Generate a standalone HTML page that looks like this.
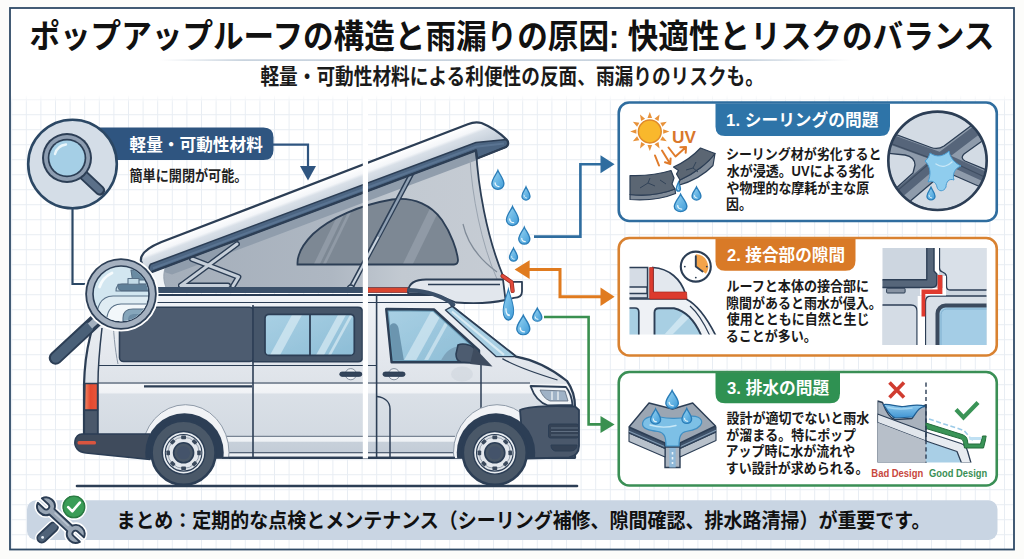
<!DOCTYPE html>
<html lang="ja"><head><meta charset="utf-8"><title>ポップアップルーフの構造と雨漏りの原因</title>
<style>
html,body{margin:0;padding:0;background:#fcfcfa}
body{width:1024px;height:559px;overflow:hidden;position:relative;font-family:"Liberation Sans","Noto Sans CJK JP",sans-serif}
svg{position:absolute;left:0;top:0;display:block}
svg text{font-family:"Liberation Sans","Noto Sans CJK JP",sans-serif;font-weight:bold}
.t{position:absolute;margin:0;padding:0;color:transparent;white-space:nowrap;overflow:hidden;line-height:1;font-weight:bold;font-family:"Liberation Sans","Noto Sans CJK JP",sans-serif}
.l{font-family:"Liberation Sans","Noto Sans CJK JP",sans-serif;font-weight:bold}
</style></head><body>
<svg width="1024" height="559" viewBox="0 0 1024 559">
<defs>

<pattern id="grid" x="11.2" y="99.2" width="14.6" height="15" patternUnits="userSpaceOnUse">
<path d="M0.5 0V15M0 0.5H14.6" stroke="#e8edf3" stroke-width="1" fill="none"/>
</pattern>
<linearGradient id="gfade" x1="0" y1="0" x2="0" y2="1"><stop offset="0" stop-color="#fff" stop-opacity="1"/><stop offset="1" stop-color="#fff" stop-opacity="0"/></linearGradient>
<linearGradient id="uline" x1="0" y1="0" x2="1" y2="0"><stop offset="0" stop-color="#c3cfdb" stop-opacity="0"/><stop offset="0.12" stop-color="#c3cfdb"/><stop offset="0.85" stop-color="#c3cfdb"/><stop offset="1" stop-color="#c3cfdb" stop-opacity="0"/></linearGradient>

<linearGradient id="fab" x1="160" y1="0" x2="505" y2="0" gradientUnits="userSpaceOnUse"><stop offset="0" stop-color="#a4aeba"/><stop offset="0.5" stop-color="#aeb7c2"/><stop offset="0.7" stop-color="#c2c9d1"/><stop offset="1" stop-color="#c6ccd4"/></linearGradient>
<linearGradient id="shell" x1="300" y1="189" x2="308.9" y2="212.4" gradientUnits="userSpaceOnUse"><stop offset="0" stop-color="#ffffff"/><stop offset="0.3" stop-color="#f4f6f9"/><stop offset="0.42" stop-color="#d9e0e8"/><stop offset="0.75" stop-color="#cbd4de"/><stop offset="1" stop-color="#c0cad6"/></linearGradient>
<linearGradient id="body" x1="0" y1="294" x2="0" y2="458" gradientUnits="userSpaceOnUse"><stop offset="0" stop-color="#f4f6f8"/><stop offset="0.06" stop-color="#eef1f5"/><stop offset="0.4" stop-color="#e3e7ed"/><stop offset="0.545" stop-color="#dee3e9"/><stop offset="0.552" stop-color="#f4f6f8"/><stop offset="0.6" stop-color="#f1f3f6"/><stop offset="0.612" stop-color="#dae0e7"/><stop offset="0.862" stop-color="#d3dae2"/><stop offset="0.872" stop-color="#f0f3f6"/><stop offset="0.898" stop-color="#eef1f5"/><stop offset="0.903" stop-color="#c7d0da"/><stop offset="0.965" stop-color="#c3ccd7"/><stop offset="0.972" stop-color="#eef1f5"/><stop offset="1" stop-color="#e9edf1"/></linearGradient>
<linearGradient id="glass" x1="0" y1="0" x2="1" y2="1"><stop offset="0" stop-color="#a9d0e4"/><stop offset="1" stop-color="#8dbdd6"/></linearGradient>
<linearGradient id="tail" x1="0" y1="0" x2="1" y2="0"><stop offset="0" stop-color="#f28a68"/><stop offset="0.45" stop-color="#e4492f"/><stop offset="1" stop-color="#e8573b"/></linearGradient>
<clipPath id="cw1"><path d="M297.5,264.5 C297,255 303,244 313,234 C330,218 360,205 392,199.5 C415,196.5 432,206 442,220 C451,233 457,250 458,260 Q458,264.5 454,264.5 Z"/></clipPath>
<clipPath id="cw2"><rect x="265" y="314.3" width="89.3" height="41.1" rx="4"/></clipPath>
<clipPath id="cw3"><path d="M386.2,309 L434,309.5 L479,350.5 L479,362.3 L391.6,362.3 Z"/></clipPath>
<clipPath id="carch"><rect x="60" y="380" width="540" height="78.3"/></clipPath>
<g id="wheel">
<circle r="32" fill="#4a5868" stroke="#2c3e55" stroke-width="2.6"/>
<circle r="22" fill="#2c3e55"/>
<circle r="20.6" fill="#e9edf1"/>
<circle r="18.3" fill="#dde2e8" stroke="#2c3e55" stroke-width="1.1"/>
<circle r="15.6" fill="#e4e8ed" stroke="#8793a2" stroke-width="0.8"/>
<g fill="#3a495c">
<rect x="-2.4" y="-17.2" width="4.8" height="3.6" rx="0.8"/><rect x="-2.4" y="13.6" width="4.8" height="3.6" rx="0.8"/>
<rect x="-17.2" y="-2.4" width="3.6" height="4.8" rx="0.8"/><rect x="13.6" y="-2.4" width="3.6" height="4.8" rx="0.8"/>
<g transform="rotate(45)"><rect x="-2.4" y="-17.2" width="4.8" height="3.6" rx="0.8"/><rect x="-2.4" y="13.6" width="4.8" height="3.6" rx="0.8"/>
<rect x="-17.2" y="-2.4" width="3.6" height="4.8" rx="0.8"/><rect x="13.6" y="-2.4" width="3.6" height="4.8" rx="0.8"/></g></g>
<circle r="10" fill="#4a5868" stroke="#2c3e55" stroke-width="1.6"/>
<circle r="6.5" fill="#44536a"/>
</g>

<clipPath id="cc1"><circle cx="937.5" cy="160.8" r="48.2"/></clipPath>
<clipPath id="cb2"><rect x="882.5" y="248" width="104" height="97"/></clipPath>
<clipPath id="cb2l"><rect x="629.5" y="262" width="88" height="72.5"/></clipPath>
<clipPath id="cb3"><rect x="877.5" y="382" width="109" height="80.5"/></clipPath>
<linearGradient id="drop" x1="0" y1="0" x2="1" y2="1"><stop offset="0" stop-color="#9ad6f3"/><stop offset="1" stop-color="#3f9bd8"/></linearGradient>
<linearGradient id="wbad" x1="0" y1="0" x2="0" y2="1"><stop offset="0" stop-color="#8ecbef"/><stop offset="1" stop-color="#3f93d2"/></linearGradient>
<path id="dr" d="M0,-10 C1.2,-6.5 5.6,-1.5 5.6,3.6 A5.6,5.6 0 1 1 -5.6,3.6 C-5.6,-1.5 -1.2,-6.5 0,-10 Z"/>

<radialGradient id="lens" cx="0.4" cy="0.35" r="0.75"><stop offset="0" stop-color="#c4e2f1"/><stop offset="1" stop-color="#97c6df"/></radialGradient>
<clipPath id="clens"><circle cx="121" cy="294" r="27.2"/></clipPath>

</defs>
<rect width="1024" height="559" fill="#fcfcfa"/>
<rect x="10" y="8" width="1004" height="541.5" fill="#fff"/>
<rect x="11" y="95" width="1002" height="454" fill="url(#grid)"/>
<rect x="11" y="95" width="1002" height="8" fill="url(#gfade)"/>
<rect x="10" y="8" width="1004" height="541.5" fill="none" stroke="#2f4a66" stroke-width="1.8"/>
<rect x="160" y="59.3" width="692" height="1.6" fill="url(#uline)"/>
<text x="29.38" y="48.10" font-size="32.7" fill="#111" textLength="965" lengthAdjust="spacingAndGlyphs">ポップアップルーフの構造と雨漏りの原因: 快適性とリスクのバランス</text>
<text x="260.44" y="84.30" font-size="21.2" fill="#1a1a1a" textLength="503.5" lengthAdjust="spacingAndGlyphs">軽量・可動性材料による利便性の反面、雨漏りのリスクも。</text>
<path d="M77,486 H577" stroke="#2c3e55" stroke-width="2.6" stroke-linecap="round"/>
<path d="M160,289 L160,268 L476,149.5 C478,185 486,235 503.5,277 L504,289 Z" fill="url(#fab)"/>
<path d="M158,270 L476,150.5 L477,160 L172,274.5 Z" fill="#909dac"/>
<path d="M476,149.5 C478,185 486,235 503.5,277" fill="none" stroke="#2c3e55" stroke-width="1.8"/>
<path d="M470,159 C472,195 481,243 497,279" fill="none" stroke="#9aa4b0" stroke-width="1"/>
<path d="M463,224 C467,242 479,259 497,272" fill="none" stroke="#7f8a97" stroke-width="1.2"/>
<path d="M297.5,264.5 C297,255 303,244 313,234 C330,218 360,205 392,199.5 C415,196.5 432,206 442,220 C451,233 457,250 458,260 Q458,264.5 454,264.5 Z" fill="#7d8894"/>
<g clip-path="url(#cw1)" fill="#909aa6"><path d="M311,270 L345,200 L351,200 L317,270 Z"/><path d="M320,270 L354,200 L357,200 L323,270 Z"/><path d="M400,270 L436,196 L446,196 L410,270 Z"/></g>
<path d="M297.5,264.5 C297,255 303,244 313,234 C330,218 360,205 392,199.5 C415,196.5 432,206 442,220 C451,233 457,250 458,260 Q458,264.5 454,264.5 Z" fill="none" stroke="#2c3e55" stroke-width="1.8"/>
<path d="M412,173 L351,287.5" stroke="#2c3e55" stroke-width="5.2" stroke-linecap="round"/>
<path d="M412,173 L378.5,236.5" stroke="#8fa0b3" stroke-width="2.4"/>
<path d="M378.5,236.5 L351,287.5" stroke="#c9d3dd" stroke-width="2.2"/>
<circle cx="350.8" cy="288.5" r="3.4" fill="#b9c5d1" stroke="#2c3e55" stroke-width="1.5"/>
<path d="M181,285.5 L237,244" fill="none" stroke="#2c3e55" stroke-width="5.8" stroke-linejoin="round" stroke-linecap="round"/>
<path d="M192,259 L238.5,277 L233,286" fill="none" stroke="#2c3e55" stroke-width="5.8" stroke-linejoin="round" stroke-linecap="round"/>
<path d="M181,285.5 H228" fill="none" stroke="#2c3e55" stroke-width="5.8" stroke-linejoin="round" stroke-linecap="round"/>
<path d="M181,285.5 L237,244" fill="none" stroke="#c6cfd9" stroke-width="3" stroke-linejoin="round" stroke-linecap="round"/>
<path d="M192,259 L238.5,277 L233,286" fill="none" stroke="#c6cfd9" stroke-width="3" stroke-linejoin="round" stroke-linecap="round"/>
<path d="M181,285.5 H228" fill="none" stroke="#c6cfd9" stroke-width="3" stroke-linejoin="round" stroke-linecap="round"/>
<path d="M149,270 L166,265.5 C163,273 163,280 166,287.5 L158,287.5 C152,283 149.5,277 149,270 Z" fill="#f1f4f7" stroke="#8e9aa8" stroke-width="0.8"/>
<path d="M141,261 C140,254 148,247.5 161.5,242 L467.8,124.2 C472,122.5 477,121.8 481.5,123 C490,126.5 500,133 506.5,139.5 C509,142 508.5,145.5 506,147 L477,158.5 L476,150.3 L150.7,272.3 C146,271 142.5,267 141,261 Z" fill="url(#shell)"/>
<path d="M150.7,272.3 L476,150.3 L477,158.5 L506,147 C508.5,145.5 509,142 506.5,139.5 L476,142.5 L150.5,264.3 C148.5,267 148.8,270.5 150.7,272.3 Z" fill="#4c6582" stroke="#2c3e55" stroke-width="1.5" stroke-linejoin="round"/>
<path d="M153,268.3 L476,146.8 L504,143.5" fill="none" stroke="#5a7492" stroke-width="2"/>
<path d="M141,261 C140,254 148,247.5 161.5,242 L467.8,124.2 C472,122.5 477,121.8 481.5,123 C490,126.5 500,133 506.5,139.5 C509,142 508.5,145.5 506,147 L477,158.5 L476,150.3 L150.7,272.3 C146,271 142.5,267 141,261 Z" fill="none" stroke="#2c3e55" stroke-width="2.3" stroke-linejoin="round"/>
<rect x="157" y="287" width="254" height="6" fill="#3b5069"/>
<rect x="368" y="287.6" width="41" height="5" fill="#d9452f"/>
<path d="M408,291 C409,283 416,279.5 426,279.5 L503,279.5 L505.5,300 C490,303.5 470,303.5 456,302.5 C445,297 430,293 408,293 Z" fill="#e2e7ed" stroke="#2c3e55" stroke-width="1.8" stroke-linejoin="round"/>
<path d="M428,284.5 H500" stroke="#2c3e55" stroke-width="1.3"/>
<path d="M512,281.8 H522 V291.5 C522,296 518.5,297.8 514,297.8 L505.5,300" fill="#fff" stroke="#2c3e55" stroke-width="1.8" stroke-linejoin="round"/>
<path d="M502.6,276 L511.6,282.2 L512.6,291" fill="none" stroke="#8f2a20" stroke-width="4.2" stroke-linejoin="round" stroke-linecap="round"/><path d="M502.6,276 L511.6,282.2 L512.6,291" fill="none" stroke="#e2493a" stroke-width="2.8" stroke-linejoin="round" stroke-linecap="round"/>
<path d="M108,295 L434,295 C443,296 448.5,300 452.2,306.4 L516.1,356.6 C535,360 552,369 567,381 C572,388 575,398 575,407 L575,457.8 L146,457.8 L146,436 L84,436 L84,385 C84.5,365 87,349 90,337 C93,322 100,303 108,295 Z" fill="url(#body)" stroke="#2c3e55" stroke-width="2.2" stroke-linejoin="round"/>
<path d="M110,302.5 H452" stroke="#2c3e55" stroke-width="1.1"/>
<path d="M102,328 C100,345 98,365 98,383 V434" fill="none" stroke="#2c3e55" stroke-width="1.5"/>
<path d="M113,312 C113,330 115,350 118,364" fill="none" stroke="#8b97a6" stroke-width="1"/>
<path d="M99,365.5 H376" stroke="#2c3e55" stroke-width="1.1"/>
<path d="M98,383 H530" stroke="#2c3e55" stroke-width="1.1"/>
<path d="M144,386.3 H252" stroke="#2c3e55" stroke-width="2.2"/>
<path d="M222,436.3 H455" stroke="#5d6b7c" stroke-width="1"/>
<path d="M222,452.7 H455" stroke="#2c3e55" stroke-width="1.1"/>
<path d="M253,305 V457" stroke="#2c3e55" stroke-width="1.6"/>
<path d="M376.6,296 V457" stroke="#2c3e55" stroke-width="1.6"/>
<path d="M377,396.5 C385,397.5 390,402 390,409 V457" fill="none" stroke="#2c3e55" stroke-width="1.5"/>
<path d="M481,357 V414" stroke="#2c3e55" stroke-width="1.5"/>
<rect x="119.5" y="307.2" width="134" height="54.3" rx="4" fill="#4d5c70" stroke="#2c3e55" stroke-width="1.6"/>
<path d="M253,307.2 H358 Q362.4,307.2 362.4,311.5 V357.5 Q362.4,361.8 358,361.8 H253 Z" fill="#46566a" stroke="#2c3e55" stroke-width="1.6"/>
<rect x="265" y="314.3" width="89.3" height="41.1" rx="4" fill="url(#glass)"/>
<g clip-path="url(#cw2)" fill="#d4e8f2" opacity="0.75"><path d="M269,357 L293,313 L303,313 L279,357 Z"/><path d="M315,357 L339,313 L347,313 L323,357 Z"/><path d="M327,357 L351,313 L354,313 L330,357 Z"/></g>
<rect x="265" y="314.3" width="89.3" height="41.1" rx="4" fill="none" stroke="#2c3e55" stroke-width="1.7"/>
<path d="M310,314.3 V355.4" stroke="#2c3e55" stroke-width="1.8"/>
<path d="M386.2,309 L434,309.5 L479,350.5 L479,362.3 L391.6,362.3 Z" fill="url(#glass)"/>
<g clip-path="url(#cw3)"><path d="M389,328 C390.5,321.5 397,321.5 398.5,328 L404.5,364 H392 Z" fill="#6b95af"/><path d="M440,363 C445,350 455,345 462,347 L470,363 Z" fill="#7ea3bb"/><g fill="#d4e8f2" opacity="0.7"><path d="M402,364 L434,306 L446,306 L414,364 Z"/><path d="M422,364 L454,306 L458,306 L426,364 Z"/></g><path d="M386.2,309 L434,309.5 L479,350.5 L479,362.3 L391.6,362.3 Z" fill="none" stroke="#6a9cb6" stroke-width="4.6"/></g>
<path d="M386.2,309 L434,309.5 L479,350.5 L479,362.3 L391.6,362.3 Z" fill="none" stroke="#2c3e55" stroke-width="2.4" stroke-linejoin="round"/>
<path d="M409,290 C428,291 443,296.5 453.5,304.5" fill="none" stroke="#3b5069" stroke-width="3.8" stroke-linecap="round"/>
<path d="M445.5,310 L452.2,306.4 L516.1,356.6 L496,356.6 Z" fill="#a8cfe3" stroke="#2c3e55" stroke-width="1.4" stroke-linejoin="round"/>
<path d="M452,311.5 L504,354.8" stroke="#d8ebf4" stroke-width="2.2"/>
<path d="M458,345 C462,343 470,344 474,348 L479,357 C480,361 478,363 474,363 L461,362 C457,361 456,358 456,354 Z" fill="#4d5c70" stroke="#2c3e55" stroke-width="1.6"/>
<path d="M474,347 L492.5,366.5 L470,364 Z" fill="#3f4c5f"/>
<ellipse cx="462" cy="374" rx="11" ry="7.5" fill="#c9d0d9" opacity="0.45"/>
<path d="M502.4,358.6 C515,366 538,374 557.5,380" fill="none" stroke="#2c3e55" stroke-width="1.3"/>
<circle cx="350.8" cy="374.2" r="5.6" fill="#eef1f5" stroke="#7c8897" stroke-width="0.9"/>
<rect x="339.8" y="372.1" width="22" height="4.2" rx="2.1" fill="#33445a" stroke="#2c3e55" stroke-width="1"/>
<circle cx="394.0" cy="374.2" r="5.6" fill="#eef1f5" stroke="#7c8897" stroke-width="0.9"/>
<rect x="383.0" y="372.1" width="22" height="4.2" rx="2.1" fill="#33445a" stroke="#2c3e55" stroke-width="1"/>
<path d="M530.5,386 L566,387 C570,392 572,399 572.5,405 L548,405.5 C540,403 534,396 530.5,386 Z" fill="#f2f5f8" stroke="#2c3e55" stroke-width="1.8" stroke-linejoin="round"/>
<path d="M540,390 L565,391 L568,401 L550,401 C545,399 542,395 540,390 Z" fill="#9fb2c6" stroke="#5d6b7c" stroke-width="0.8"/>
<path d="M552,391.5 V400 M558,391.5 V400" stroke="#e9eef3" stroke-width="1.4"/>
<path d="M85,383.5 H97.5 V410 H84.5 Z" fill="url(#tail)" stroke="#2c3e55" stroke-width="1.4"/>
<rect x="84.5" y="410.5" width="13" height="24" fill="#4a586b" stroke="#2c3e55" stroke-width="1.2"/>
<g clip-path="url(#carch)">
<ellipse cx="185.5" cy="452.5" rx="43.5" ry="47.8" fill="#f1f3f6" stroke="#8e9aa8" stroke-width="1"/>
<ellipse cx="497" cy="452.5" rx="43.5" ry="47.8" fill="#f1f3f6" stroke="#8e9aa8" stroke-width="1"/>
</g>
<path d="M520,410 C528,406.5 545,405.5 575,406.5 L579,410 V446 C579,452 576,456 569,457.5 L524,458.5 L520,410 Z" fill="#4a586b" stroke="#2c3e55" stroke-width="1.8" stroke-linejoin="round"/>
<rect x="548.5" y="424" width="30" height="14" rx="2" fill="#344255" stroke="#2c3e55" stroke-width="1"/>
<path d="M551,428 H578 M551,431.5 H578 M551,435 H578" stroke="#5f6e81" stroke-width="1"/>
<path d="M551,445 H577 C577,449 574,451 570,451 H555 C552,450 551,448 551,445 Z" fill="#344255" stroke="#2c3e55" stroke-width="1"/>
<path d="M82,434 H150 V459.5 L86,453 C78,452 74,447 75,441 C76,436 78,434 82,434 Z" fill="#3f4b5c" stroke="#2c3e55" stroke-width="1.6" stroke-linejoin="round"/>
<rect x="77.5" y="441" width="18.5" height="3.5" rx="1.5" fill="#d9553f"/>
<g clip-path="url(#carch)">
<circle cx="184.5" cy="452.5" r="39.2" fill="#2c3e55"/>
<circle cx="496" cy="452.5" r="39.2" fill="#2c3e55"/>
</g>
<use href="#wheel" x="183.6" y="452.8"/>
<use href="#wheel" x="494.8" y="452.8"/>
<path d="M222,457.8 H455" stroke="#2c3e55" stroke-width="2"/>
<rect x="362.8" y="98" width="5.2" height="360.5" fill="#ffffff"/>
<rect x="618.75" y="102.50" width="378" height="118.50" rx="10.5" fill="#ffffff" stroke="#2f6d9f" stroke-width="2.6"/>
<path d="M715.5,103.50 H890.00 V126.00 Q890.00,136.00 880.00,136.00 H725 Q715.5,136.00 715.5,126.50 Z" fill="#2e74a8"/>
<text x="726.13" y="126.30" font-size="16.6" fill="#ffffff" textLength="152.3" lengthAdjust="spacingAndGlyphs">1. シーリングの問題</text>
<text x="725.94" y="159.30" font-size="14" fill="#1a1a1a" textLength="155.6" lengthAdjust="spacingAndGlyphs">シーリング材が劣化すると</text>
<text x="726.74" y="175.90" font-size="14" fill="#1a1a1a" textLength="147.4" lengthAdjust="spacingAndGlyphs">水が浸透。UVによる劣化</text>
<text x="726.51" y="192.50" font-size="14" fill="#1a1a1a" textLength="142.7" lengthAdjust="spacingAndGlyphs">や物理的な摩耗が主な原</text>
<text x="726.07" y="209.10" font-size="14" fill="#1a1a1a" textLength="25.9" lengthAdjust="spacingAndGlyphs">因。</text>
<g transform="translate(649.8 131.5)"><g fill="#e8923a"><path transform="rotate(0)" d="M-2.3,-13.4 L0,-19.6 L2.3,-13.4 Z"/><path transform="rotate(30)" d="M-2.3,-13.4 L0,-19.6 L2.3,-13.4 Z"/><path transform="rotate(60)" d="M-2.3,-13.4 L0,-19.6 L2.3,-13.4 Z"/><path transform="rotate(90)" d="M-2.3,-13.4 L0,-19.6 L2.3,-13.4 Z"/><path transform="rotate(120)" d="M-2.3,-13.4 L0,-19.6 L2.3,-13.4 Z"/><path transform="rotate(150)" d="M-2.3,-13.4 L0,-19.6 L2.3,-13.4 Z"/><path transform="rotate(180)" d="M-2.3,-13.4 L0,-19.6 L2.3,-13.4 Z"/><path transform="rotate(210)" d="M-2.3,-13.4 L0,-19.6 L2.3,-13.4 Z"/><path transform="rotate(240)" d="M-2.3,-13.4 L0,-19.6 L2.3,-13.4 Z"/><path transform="rotate(270)" d="M-2.3,-13.4 L0,-19.6 L2.3,-13.4 Z"/><path transform="rotate(300)" d="M-2.3,-13.4 L0,-19.6 L2.3,-13.4 Z"/><path transform="rotate(330)" d="M-2.3,-13.4 L0,-19.6 L2.3,-13.4 Z"/></g><circle r="11.4" fill="#f9b82c" stroke="#e08a2a" stroke-width="1.5"/></g>
<text x="672.06" y="142.80" font-size="16.3" fill="#d9772b" textLength="23.9" lengthAdjust="spacingAndGlyphs">UV</text>
<g fill="none" stroke="#e07b2a" stroke-width="2" stroke-linecap="round" stroke-linejoin="round"><path d="M655,155.5 L659,165.5"/><path d="M662,150.5 L670,163.5 M665,162.3 L670.3,164 L670.6,158.4"/><path d="M668.5,147.5 L675.5,156.5 L685.5,147.5 M680.4,147.3 L686,147 L685.7,152.8"/></g>
<g stroke="#2c3e55" stroke-width="1.2" stroke-linejoin="round">
<path d="M630,194.5 C645,196 660,195 675,189 L675.5,193.5 C660,200 645,200.5 630,199.5 Z" fill="#808b98"/>
<path d="M630,175.5 C645,176 660,174 671,170.5 L674,178 L672,184 L675,189 C660,195 645,196 630,194.5 Z" fill="#5b6673"/>
<path d="M680,180 C694,174 708,163 715,153.5 L713,165.5 C705,174 692,181.5 678,185.5 Z" fill="#808b98"/>
<path d="M673.5,167 C685,162 694,155 700.5,148 L715,153.5 C708,163 694,174 680,180 L676.5,174 L678.5,170.5 Z" fill="#5b6673"/>
</g>
<g fill="none" stroke="#2c3e55" stroke-width="0.9"><path d="M640,188 L648,183 L655,186 M648,183 L650,178"/><path d="M686,170 L693,168 L696,162 M693,168 L698,172"/><path d="M660,180 L666,184"/></g>
<g transform="translate(680.6 203.3) scale(1.116 0.911)"><use href="#dr" fill="url(#drop)" stroke="#2a7db8" stroke-width="1.28"/><path d="M-2.6,2.5 C-2.6,5 -1,6.3 1,6.3" fill="none" stroke="#e6f5fc" stroke-width="1.3" stroke-linecap="round"/></g>
<g transform="translate(696.5 193.8) scale(0.786 0.677)"><use href="#dr" fill="url(#drop)" stroke="#2a7db8" stroke-width="1.78"/><path d="M-2.6,2.5 C-2.6,5 -1,6.3 1,6.3" fill="none" stroke="#e6f5fc" stroke-width="1.3" stroke-linecap="round"/></g>
<g transform="translate(678.4 186.8) scale(0.375 0.469)"><use href="#dr" fill="url(#drop)" stroke="#2a7db8" stroke-width="3.08"/><path d="M-2.6,2.5 C-2.6,5 -1,6.3 1,6.3" fill="none" stroke="#e6f5fc" stroke-width="1.3" stroke-linecap="round"/></g>
<circle cx="937.5" cy="160.8" r="49.2" fill="#5d6b7c"/>
<g clip-path="url(#cc1)">
<rect x="885" y="108" width="105" height="105" fill="#8e9bab"/>
<g stroke="#56657a" stroke-width="10" stroke-linecap="round" fill="none"><path d="M940.5,157.5 L884,137"/><path d="M940.5,157.5 L990,120"/><path d="M938,160 L890,201"/><path d="M943,157.5 L992,180"/></g>
<g stroke="#3f4e62" stroke-width="1.2" fill="none"><path d="M884,141 L934,159.5 L890,197"/><path d="M948,160 L992,180.5"/></g>
<g fill="#d3dbe4" stroke="#2c3e55" stroke-width="1.3" stroke-linejoin="round">
<path d="M880,128.5 L931,147.5 Q938,150 944,146 L992,110 L992,100 L880,100 Z"/>
<path d="M880,152.5 L905,155 Q915,157 915,165 L913,173 L884,199 L870,205 Z"/>
<path d="M901,209 L941,175 Q946,172 952,174.5 L992,192 L992,220 L890,220 Z"/>
<path d="M996,131 L964,154 Q960,158 965,161 L996,174 Z"/>
</g>
<path d="M930,153 C937,158 944,156 949,151 C950,158 955,163 961,166 C955,168 952,174 954,180 C949,178 946,182 946,187 C944,192 938,192 937,187 C936,182 932,180 928,182 C931,175 931,167 925,161 C928,159 929,156 930,153 Z" fill="#8fcdee" stroke="#4a9bd0" stroke-width="1"/>
<path d="M936,164 C942,168 948,166 952,162" fill="none" stroke="#c9e8f7" stroke-width="1.4" stroke-linecap="round"/>
</g>
<g transform="translate(931.0 193.8) scale(0.714 0.651)"><use href="#dr" fill="url(#drop)" stroke="#2a7db8" stroke-width="1.90"/><path d="M-2.6,2.5 C-2.6,5 -1,6.3 1,6.3" fill="none" stroke="#e6f5fc" stroke-width="1.3" stroke-linecap="round"/></g>
<circle cx="937.5" cy="160.8" r="49.2" fill="none" stroke="#2c3e55" stroke-width="2.6"/>
<rect x="618.75" y="238.00" width="378" height="117.50" rx="10.5" fill="#ffffff" stroke="#d98231" stroke-width="2.6"/>
<path d="M715.5,239.00 H855.50 V260.80 Q855.50,270.80 845.50,270.80 H725 Q715.5,270.80 715.5,261.30 Z" fill="#d97a27"/>
<text x="726.92" y="261.20" font-size="16.6" fill="#ffffff" textLength="118.1" lengthAdjust="spacingAndGlyphs">2. 接合部の隙間</text>
<text x="726.48" y="290.90" font-size="14" fill="#1a1a1a" textLength="142.7" lengthAdjust="spacingAndGlyphs">ルーフと本体の接合部に</text>
<text x="726.08" y="307.50" font-size="14" fill="#1a1a1a" textLength="155.6" lengthAdjust="spacingAndGlyphs">隙間があると雨水が侵入。</text>
<text x="726.83" y="324.10" font-size="14" fill="#1a1a1a" textLength="142.7" lengthAdjust="spacingAndGlyphs">使用とともに自然と生じ</text>
<text x="725.86" y="340.70" font-size="14" fill="#1a1a1a" textLength="90.8" lengthAdjust="spacingAndGlyphs">ることが多い。</text>
<g clip-path="url(#cb2l)">
<path d="M625,299 H686 C698,305 707,318 716,336 H625 Z" fill="#eef1f5" stroke="#2c3e55" stroke-width="1.7"/>
<path d="M690,306 C698,313 704,323 710,336" fill="none" stroke="#2c3e55" stroke-width="1.2"/>
<path d="M625,267.5 H647.6 V298 H625 Z" fill="#d5dce5" stroke="#2c3e55" stroke-width="1.6"/>
<path d="M625,287 H647 V293.5 H625" fill="#e6eaef" stroke="#2c3e55" stroke-width="1.4"/>
<path d="M653,267.5 C669,268.5 681,279 685.5,294 H653 Z" fill="#e3e8ee" stroke="#2c3e55" stroke-width="1.7"/>
<path d="M649.6,267.5 H653.3 V292 H686.5 L687,299 H649.6 Z" fill="#dc3b2e" stroke="#a8281e" stroke-width="0.7" stroke-linejoin="round"/>
<path d="M625,308 H635 Q638.8,308 638.8,312 V336 H625 Z" fill="#a8cfe3" stroke="#2c3e55" stroke-width="1.7"/>
<path d="M654.5,336 V312.5 Q654.5,308.3 659,308.3 H674 C686,311 695,321 701.5,336 Z" fill="#a8cfe3" stroke="#2c3e55" stroke-width="1.9"/>
<path d="M663,336 L683,314 L689,318 L671,336 Z" fill="#d4e8f2" opacity="0.8"/>
</g>
<circle cx="695.8" cy="266.6" r="15" fill="#ffffff" stroke="#2c3e55" stroke-width="2.1"/>
<path d="M695.8,266.6 V254.3 A12.3,12.3 0 0 1 705.9,273.7 Z" fill="#f3a34a"/>
<path d="M695.8,256.3 V266.6 L702.5,271.5" fill="none" stroke="#2c3e55" stroke-width="1.9" stroke-linecap="round" stroke-linejoin="round"/>
<g fill="#2c3e55"><circle cx="695.8" cy="277.6" r="0.9"/><circle cx="684.8" cy="266.6" r="0.9"/><circle cx="706.8" cy="266.6" r="0.9"/></g>
<rect x="882.5" y="248" width="104" height="97" fill="#cdd6e0"/>
<g clip-path="url(#cb2)">
<path d="M880,305 H911 Q917,305 917,311 V346 H880 Z" fill="#d4dce5" stroke="#2c3e55" stroke-width="1.3"/>
<path d="M925.5,346 V302 Q925.5,296 931,296 H990 V346 Z" fill="#d9e0e8" stroke="#2c3e55" stroke-width="1.3"/>
<path d="M939.5,246 V268 Q939.5,271 942.5,272 L945,273.5 Q946.5,275 946.5,277 V286 Q946.5,290 950,290 H990 V246 Z" fill="#d9e0e8" stroke="#2c3e55" stroke-width="1.3"/>
<path d="M934.6,246 H939 V274 H934.6 Z M920,288 H946 V295.6 H920 Z M917.7,296 H925 V346 H917.7 Z M943,276 H946 V288 H943 Z" fill="#ffffff"/>
<path d="M880,279.7 H926.8 V246 H934 V271 L936.8,274 V283 Q936.8,287.5 932,287.5 H880 Z" fill="#56667a" stroke="#2c3e55" stroke-width="1.4" stroke-linejoin="round"/>
<rect x="886.6" y="288.2" width="18.5" height="4.8" rx="1" fill="#8793a3" stroke="#2c3e55" stroke-width="1"/>
<path d="M937.6,275 H942.4 V294 H925.3 V316.5 H921.5 V289.6 H937.6 Z" fill="#e03a2e"/>
<rect x="937.5" y="305.5" width="60" height="50" rx="8" fill="#a4cde6" stroke="#3b4a5e" stroke-width="4"/>
<rect x="941" y="309" width="56" height="46" rx="5.5" fill="none" stroke="#7fb0d0" stroke-width="1"/>
</g>
<rect x="618.75" y="372.00" width="378" height="113.50" rx="10.5" fill="#ffffff" stroke="#3a8f55" stroke-width="2.6"/>
<path d="M715.5,373.00 H840.00 V393.20 Q840.00,403.20 830.00,403.20 H725 Q715.5,403.20 715.5,393.70 Z" fill="#2f9152"/>
<text x="727.07" y="393.80" font-size="16.6" fill="#ffffff" textLength="102.1" lengthAdjust="spacingAndGlyphs">3. 排水の問題</text>
<text x="726.61" y="423.30" font-size="14.1" fill="#1a1a1a" textLength="142.7" lengthAdjust="spacingAndGlyphs">設計が適切でないと雨水</text>
<text x="726.36" y="439.70" font-size="14.1" fill="#1a1a1a" textLength="129.7" lengthAdjust="spacingAndGlyphs">が溜まる。特にポップ</text>
<text x="725.53" y="456.10" font-size="14.1" fill="#1a1a1a" textLength="129.7" lengthAdjust="spacingAndGlyphs">アップ時に水が流れや</text>
<text x="725.86" y="472.50" font-size="14.1" fill="#1a1a1a" textLength="142.7" lengthAdjust="spacingAndGlyphs">すい設計が求められる。</text>
<path d="M665,446 H680 V467.5 H665 Z" fill="#aab4c0" stroke="#2c3e55" stroke-width="1.4"/>
<rect x="669.3" y="446" width="6.4" height="21.5" fill="#8fb8d8"/>
<path d="M672.5,452 V464" stroke="#eaf4fa" stroke-width="1.6" stroke-dasharray="2.5 2.5"/>
<path d="M629,441.5 L665,457 V448.5 L629,433 Z M716,440.5 L680,457 V448.5 L716,432 Z" fill="#b8c1cb" stroke="#2c3e55" stroke-width="1.1" stroke-linejoin="round"/>
<path d="M629,433 L665,448.5 V443 L629,427.5 Z M716,432 L680,448.5 V443 L716,426.5 Z" fill="#3d5068" stroke="#2c3e55" stroke-width="1" stroke-linejoin="round"/>
<path d="M629,431.3 L665,446.8 M716,430.3 L680,446.8" stroke="#7f98b0" stroke-width="1.2"/>
<path d="M629,427 L649,403 L672.5,409 L692.7,403 L715.5,426 L680,443 V447 H665 V443 Z" fill="#9ba6b3" stroke="#2c3e55" stroke-width="1.4" stroke-linejoin="round"/>
<path d="M642.6,423 C644,417 652,415.5 660,417 C668,419 680,419 688,416.5 C696,415 702.5,418 701.6,423 C700.5,428 692,430.5 686,431.5 C681,432.5 679,436 679,446 H666 C666,436 664,432.5 658,431.5 C650,430.5 641.5,429 642.6,423 Z" fill="#7dc0e6" stroke="#3f8fc4" stroke-width="1.2"/>
<path d="M650,425 C658,427.5 668,427.5 676,425.5" fill="none" stroke="#c9e8f7" stroke-width="1.4" stroke-linecap="round"/>
<g transform="translate(672.1 399.9) scale(1.116 0.938)"><use href="#dr" fill="url(#drop)" stroke="#2a7db8" stroke-width="1.27"/><path d="M-2.6,2.5 C-2.6,5 -1,6.3 1,6.3" fill="none" stroke="#e6f5fc" stroke-width="1.3" stroke-linecap="round"/></g>
<g transform="translate(655.6 416.8) scale(0.893 0.792)"><use href="#dr" fill="url(#drop)" stroke="#2a7db8" stroke-width="1.54"/><path d="M-2.6,2.5 C-2.6,5 -1,6.3 1,6.3" fill="none" stroke="#e6f5fc" stroke-width="1.3" stroke-linecap="round"/></g>
<g transform="translate(686.8 416.3) scale(0.857 0.781)"><use href="#dr" fill="url(#drop)" stroke="#2a7db8" stroke-width="1.59"/><path d="M-2.6,2.5 C-2.6,5 -1,6.3 1,6.3" fill="none" stroke="#e6f5fc" stroke-width="1.3" stroke-linecap="round"/></g>
<g clip-path="url(#cb3)">
<path d="M877.5,401 L882.5,402.5 C885,409 889,418.5 895,419.5 L912,418.5 C916,412 917,406 926,405 V463 H877.5 Z" fill="#a9b2bd" stroke="#2c3e55" stroke-width="1.4" stroke-linejoin="round"/>
<path d="M883.5,404.5 C890,403.5 896,407 903,406.5 C910,406 918,403.5 925.5,406.5 C918,407 916.5,413 913,417 L895.5,418 C890.5,417 887,410 883.5,404.5 Z" fill="url(#wbad)" stroke="#1f5f94" stroke-width="1.2" stroke-linejoin="round"/>
<path d="M888,407.5 C894,409 902,409.5 912,408" fill="none" stroke="#a5d6f2" stroke-width="1.5" stroke-linecap="round"/>
<path d="M877.5,414 L926,432 V441 L877.5,422.5 Z" fill="#e1e6ec" stroke="#2c3e55" stroke-width="1.2" stroke-linejoin="round"/>
<path d="M877.5,422.5 L926,441 V463 H877.5 Z" fill="#b7bfc9"/>
<path d="M926,441 L957,451.5 L961.5,463 H926 Z" fill="#a9cfe6"/>
<path d="M926,432 L961,443.5 C965,445 966.5,447 967.5,451 L971,463 L961.5,463 L957,451.5 L926,441 Z" fill="#e8ecf1" stroke="#2c3e55" stroke-width="1.3" stroke-linejoin="round"/>
<path d="M926,423 L962,434.5 C966,436 967,437.5 967.5,441 L968,444 H980.5 L982.5,436 H986.5 L983.5,448 H964.5 L963.5,442.5 C963,440 962,439.3 960,438.6 L926,428.5 Z" fill="#3a9457" stroke="#226b3b" stroke-width="1" stroke-linejoin="round"/>
<path d="M929,419 L964,430.5 L970,437.5 L974,441.5" fill="none" stroke="#9ccbe8" stroke-width="1.6" stroke-dasharray="5 2.5"/>
<path d="M969.5,440 H981 L981.8,437 H969 Z" fill="#bfe0f3"/>
</g>
<path d="M926,382.5 V462.5" stroke="#2c3e55" stroke-width="1.4" stroke-dasharray="4.2 3"/>
<path d="M889.5,382.5 L904,397.5 M904,382.5 L889.5,397.5" stroke="#d03c30" stroke-width="3.6" stroke-linecap="butt"/>
<path d="M956,409.5 L963.5,417.5 L978,402.5" fill="none" stroke="#3a9457" stroke-width="4.2" stroke-linejoin="miter"/>
<text x="871.33" y="477.30" font-size="10.6" fill="#c8473d" textLength="51.9" lengthAdjust="spacingAndGlyphs">Bad Design</text>
<text x="929.09" y="477.30" font-size="10.6" fill="#3a8f55" textLength="58.1" lengthAdjust="spacingAndGlyphs">Good Design</text>
<path d="M95,127.5 H263.5 Q273.5,127.5 273.5,137.5 V150 Q273.5,160 263.5,160 H95 Z" fill="#2f5580"/>
<text x="129.50" y="151.20" font-size="17" fill="#ffffff" textLength="133.4" lengthAdjust="spacingAndGlyphs">軽量・可動性材料</text>
<text x="129.46" y="181.30" font-size="14.4" fill="#1f1f1f" textLength="118" lengthAdjust="spacingAndGlyphs">簡単に開閉が可能。</text>
<path d="M273,144.6 H308 V168" fill="none" stroke="#2f5580" stroke-width="2.2"/>
<path d="M300,166 H316 L308,180.5 Z" fill="#2f5580"/>
<path d="M72.5,208 V284 H88" fill="none" stroke="#2b4764" stroke-width="2.2"/>
<circle cx="72.5" cy="164" r="44.3" fill="#d4dde7" stroke="#2b4764" stroke-width="2.6"/>
<path d="M83,174.5 L100,190.5" stroke="#2c3e55" stroke-width="10.5" stroke-linecap="round"/>
<path d="M84,175.5 L99.5,190" stroke="#5b7089" stroke-width="6.6" stroke-linecap="round"/>
<circle cx="67" cy="158" r="25" fill="#2c3e55"/>
<circle cx="67" cy="158" r="23" fill="#8d9db1"/>
<circle cx="67" cy="158" r="19.3" fill="#2c3e55"/>
<circle cx="67" cy="158" r="17.6" fill="#a5cfe6"/>
<path d="M55,154 A13,13 0 0 1 66,144.5" fill="none" stroke="#eaf6fb" stroke-width="2.4" stroke-linecap="round"/>
<path d="M97,319.5 L55.5,358" stroke="#2c3e55" stroke-width="13.6" stroke-linecap="round"/>
<path d="M88.5,327.5 L55.8,357.8" stroke="#4a6078" stroke-width="9.8" stroke-linecap="round"/>
<path d="M99.5,317.5 L90,326" stroke="#a3b0bf" stroke-width="6.4"/>
<circle cx="121" cy="294" r="37.6" fill="#ffffff"/>
<circle cx="121" cy="294" r="35.8" fill="#2c3e55"/>
<circle cx="121" cy="294" r="34" fill="#a5b1c0"/>
<circle cx="121" cy="294" r="28.8" fill="#2c3e55"/>
<circle cx="121" cy="294" r="27.2" fill="#d2e6f0"/>
<g clip-path="url(#clens)" stroke="#587087" stroke-width="1.1" stroke-linejoin="round">
<path d="M131,270 H143 L144.5,280 H132.5 Z" fill="#6a8ba3"/>
<path d="M116,291 C116,286 118,284 122,284 H128 V278.5 H139 V284 H152 V291 Z" fill="#c2dae7"/>
<path d="M118,284.3 H152 V290.6 H121 C118.5,290 117.5,287 118,284.3 Z" fill="#5f7f98"/>
<path d="M96,326 C96,305 101,296.5 113,296 H152 V326 Z" fill="#dfecf3"/>
<path d="M106,328 C106,312 110,304.5 121,304 H152 V328 Z" fill="#f2f7fa"/>
<path d="M123,330 V318 C123,312 126.5,309 133,309 H152 V330 Z" fill="#86a6bb"/>
<path d="M128,330 V320 C128,316 130,314 135,314 H152 V330 Z" fill="#6d8da5" stroke="none"/>
</g>
<path d="M99.5,287 A23.5,23.5 0 0 1 112,273" fill="none" stroke="#f6fbfd" stroke-width="2.8" stroke-linecap="round"/>
<g transform="translate(497.9 180.3) scale(1.071 0.990)"><use href="#dr" fill="url(#drop)" stroke="#2a7db8" stroke-width="1.26"/><path d="M-2.6,2.5 C-2.6,5 -1,6.3 1,6.3" fill="none" stroke="#e6f5fc" stroke-width="1.3" stroke-linecap="round"/></g>
<g transform="translate(526.0 193.8) scale(0.714 0.677)"><use href="#dr" fill="url(#drop)" stroke="#2a7db8" stroke-width="1.87"/><path d="M-2.6,2.5 C-2.6,5 -1,6.3 1,6.3" fill="none" stroke="#e6f5fc" stroke-width="1.3" stroke-linecap="round"/></g>
<g transform="translate(512.5 216.4) scale(1.071 0.990)"><use href="#dr" fill="url(#drop)" stroke="#2a7db8" stroke-width="1.26"/><path d="M-2.6,2.5 C-2.6,5 -1,6.3 1,6.3" fill="none" stroke="#e6f5fc" stroke-width="1.3" stroke-linecap="round"/></g>
<g transform="translate(524.3 236.0) scale(0.982 0.885)"><use href="#dr" fill="url(#drop)" stroke="#2a7db8" stroke-width="1.39"/><path d="M-2.6,2.5 C-2.6,5 -1,6.3 1,6.3" fill="none" stroke="#e6f5fc" stroke-width="1.3" stroke-linecap="round"/></g>
<g transform="translate(513.5 254.9) scale(0.714 0.677)"><use href="#dr" fill="url(#drop)" stroke="#2a7db8" stroke-width="1.87"/><path d="M-2.6,2.5 C-2.6,5 -1,6.3 1,6.3" fill="none" stroke="#e6f5fc" stroke-width="1.3" stroke-linecap="round"/></g>
<g transform="translate(508.4 305.1) scale(0.938 1.615)"><use href="#dr" fill="url(#drop)" stroke="#2a7db8" stroke-width="1.02"/><path d="M-2.6,2.5 C-2.6,5 -1,6.3 1,6.3" fill="none" stroke="#e6f5fc" stroke-width="1.3" stroke-linecap="round"/></g>
<g transform="translate(523.3 325.4) scale(1.161 1.016)"><use href="#dr" fill="url(#drop)" stroke="#2a7db8" stroke-width="1.19"/><path d="M-2.6,2.5 C-2.6,5 -1,6.3 1,6.3" fill="none" stroke="#e6f5fc" stroke-width="1.3" stroke-linecap="round"/></g>
<g transform="translate(537.3 315.0) scale(0.804 0.677)"><use href="#dr" fill="url(#drop)" stroke="#2a7db8" stroke-width="1.76"/><path d="M-2.6,2.5 C-2.6,5 -1,6.3 1,6.3" fill="none" stroke="#e6f5fc" stroke-width="1.3" stroke-linecap="round"/></g>
<path d="M534,236.6 H580.4 V164.3 H602" fill="none" stroke="#2f6d9f" stroke-width="2.6"/>
<path d="M600.5,155.3 L614.6,164.3 L600.5,173.3 Z" fill="#2f6d9f"/>
<path d="M528,269.6 H560 V296.7 H602" fill="none" stroke="#e07b1f" stroke-width="3"/>
<path d="M529.6,260.2 L514.6,269.6 L529.6,279 Z" fill="#e07b1f"/>
<path d="M600.5,287.5 L614.6,296.7 L600.5,306 Z" fill="#e07b1f"/>
<path d="M544,317 H588.6 V424.4 H602" fill="none" stroke="#3a9050" stroke-width="2.6"/>
<path d="M600.5,416 L614.6,424.4 L600.5,433 Z" fill="#3a9050"/>
<rect x="27" y="500.3" width="970.5" height="39.7" rx="9" fill="#c9d5e3"/>
<text x="116.42" y="528.40" font-size="20.6" fill="#111" textLength="814" lengthAdjust="spacingAndGlyphs">まとめ：定期的な点検とメンテナンス（シーリング補修、隙間確認、排水路清掃）が重要です。</text>
<path d="M57.5,523.5 L53,527.5" stroke="#ffffff" stroke-width="7" stroke-linecap="round"/>
<path d="M53.5,527 L41.8,538" stroke="#ffffff" stroke-width="13.5" stroke-linecap="round"/>
<path d="M58.5,522.5 L53,527.5" stroke="#2c3e55" stroke-width="5" stroke-linecap="round"/>
<path d="M58.5,522.5 L53,527.5" stroke="#aab6c4" stroke-width="2.4" stroke-linecap="round"/>
<path d="M53.5,527 L41.8,538" stroke="#2c3e55" stroke-width="10.8" stroke-linecap="round"/>
<path d="M53.5,527 L41.8,538" stroke="#4f6278" stroke-width="7.2" stroke-linecap="round"/>
<circle cx="42.6" cy="537.4" r="1.4" fill="#e6edf4"/>
<g transform="translate(60.85 520.1) rotate(42.9)"><path d="M-12.21,-3.7 A8.9,8.9 0 0 0 -28.68,-3 L-20,-3 A3,3 0 0 1 -20,3 L-28.68,3 A8.9,8.9 0 0 0 -12.21,3.7 L12.21,3.7 A8.9,8.9 0 0 0 28.68,3 L20,3 A3,3 0 0 1 20,-3 L28.68,-3 A8.9,8.9 0 0 0 12.21,-3.7 Z" fill="none" stroke="#ffffff" stroke-width="5" stroke-linejoin="round"/><path d="M-12.21,-3.7 A8.9,8.9 0 0 0 -28.68,-3 L-20,-3 A3,3 0 0 1 -20,3 L-28.68,3 A8.9,8.9 0 0 0 -12.21,3.7 L12.21,3.7 A8.9,8.9 0 0 0 28.68,3 L20,3 A3,3 0 0 1 20,-3 L28.68,-3 A8.9,8.9 0 0 0 12.21,-3.7 Z" fill="#98a5b4" stroke="#2c3e55" stroke-width="1.9" stroke-linejoin="round"/><path d="M-9,-1.2 H9" stroke="#b9c4d0" stroke-width="1.6" stroke-linecap="round"/></g>
<circle cx="73.9" cy="506.9" r="10.9" fill="#3a9d57" stroke="#2a7a42" stroke-width="1.6"/>
<circle cx="73.9" cy="506.9" r="12.4" fill="none" stroke="#ffffff" stroke-width="1.4"/>
<path d="M68.2,507.2 L72.3,511.3 L79.8,502.6" fill="none" stroke="#ffffff" stroke-width="2.6" stroke-linecap="round" stroke-linejoin="round"/>
</svg>
<h1 class="t" style="left:30.6px;top:19.3px;font-size:32.7px;width:961.4px">ポップアップルーフの構造と雨漏りの原因: 快適性とリスクのバランス</h1>
<p class="t" style="left:261.0px;top:65.6px;font-size:21.2px;width:491.0px">軽量・可動性材料による利便性の反面、雨漏りのリスクも。</p>
<h2 class="t" style="left:727.5px;top:111.7px;font-size:16.6px;width:150.5px">1. シーリングの問題</h2>
<p class="t" style="left:727.0px;top:147.0px;font-size:14.0px;width:155.6px">シーリング材が劣化すると</p>
<p class="t" style="left:727.0px;top:163.6px;font-size:14.0px;width:155.6px">水が浸透。UVによる劣化</p>
<p class="t" style="left:727.0px;top:180.2px;font-size:14.0px;width:142.7px">や物理的な摩耗が主な原</p>
<p class="t" style="left:727.0px;top:196.8px;font-size:14.0px;width:25.9px">因。</p>
<p class="t" style="left:673.6px;top:128.5px;font-size:16.3px;width:22.4px">UV</p>
<h2 class="t" style="left:727.5px;top:246.6px;font-size:16.6px;width:116.3px">2. 接合部の隙間</h2>
<p class="t" style="left:727.0px;top:278.6px;font-size:14.0px;width:142.7px">ルーフと本体の接合部に</p>
<p class="t" style="left:727.0px;top:295.2px;font-size:14.0px;width:155.6px">隙間があると雨水が侵入。</p>
<p class="t" style="left:727.0px;top:311.8px;font-size:14.0px;width:142.7px">使用とともに自然と生じ</p>
<p class="t" style="left:727.0px;top:328.4px;font-size:14.0px;width:90.8px">ることが多い。</p>
<h2 class="t" style="left:727.5px;top:379.2px;font-size:16.6px;width:101.3px">3. 排水の問題</h2>
<p class="t" style="left:727.0px;top:410.9px;font-size:14.1px;width:142.7px">設計が適切でないと雨水</p>
<p class="t" style="left:727.0px;top:427.3px;font-size:14.1px;width:129.7px">が溜まる。特にポップ</p>
<p class="t" style="left:727.0px;top:443.7px;font-size:14.1px;width:129.7px">アップ時に水が流れや</p>
<p class="t" style="left:727.0px;top:460.1px;font-size:14.1px;width:142.7px">すい設計が求められる。</p>
<p class="t" style="left:872.2px;top:468.0px;font-size:10.6px;width:50.6px">Bad Design</p>
<p class="t" style="left:929.6px;top:468.0px;font-size:10.6px;width:57.2px">Good Design</p>
<h2 class="t" style="left:130.0px;top:136.2px;font-size:17.0px;width:132.5px">軽量・可動性材料</h2>
<p class="t" style="left:129.8px;top:168.6px;font-size:14.4px;width:109.2px">簡単に開閉が可能。</p>
<p class="t" style="left:119.5px;top:510.3px;font-size:20.6px;width:798.5px">まとめ：定期的な点検とメンテナンス（シーリング補修、隙間確認、排水路清掃）が重要です。</p>
</body></html>
